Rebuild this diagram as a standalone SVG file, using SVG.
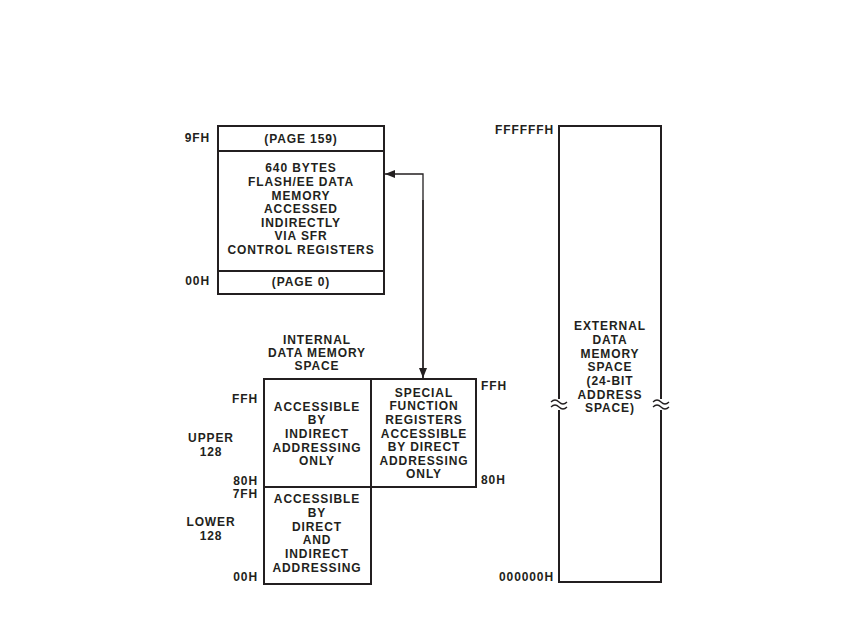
<svg xmlns="http://www.w3.org/2000/svg" width="850" height="638" viewBox="0 0 850 638">
<style>
text{font-family:"Liberation Sans",Arial,sans-serif;font-weight:bold;font-size:12px;letter-spacing:0.9px;fill:#231f20}
.c{text-anchor:middle}
.r{text-anchor:end}
.box{fill:none;stroke:#231f20;stroke-width:2}
.ln{fill:none;stroke:#231f20;stroke-width:1.3}
</style>
<defs>
<marker id="ah" viewBox="0 0 10 8" refX="10" refY="4" markerWidth="10" markerHeight="8" markerUnits="userSpaceOnUse" orient="auto">
<path d="M0,0 L10,4 L0,8 Z" fill="#231f20"/>
</marker>
</defs>
<rect width="850" height="638" fill="#fff"/>
<g id="flash">
<rect class="box" x="218" y="126" width="166" height="168"/>
<line class="box" x1="218" y1="151" x2="384" y2="151"/>
<line class="box" x1="218" y1="271" x2="384" y2="271"/>
<text class="c" x="301" y="143">(PAGE 159)</text>
<text class="c" x="301" y="172">640 BYTES</text>
<text class="c" x="301" y="186">FLASH/EE DATA</text>
<text class="c" x="301" y="200">MEMORY</text>
<text class="c" x="301" y="213">ACCESSED</text>
<text class="c" x="301" y="227">INDIRECTLY</text>
<text class="c" x="301" y="240">VIA SFR</text>
<text class="c" x="301" y="254">CONTROL REGISTERS</text>
<text class="c" x="301" y="286">(PAGE 0)</text>
<text class="r" x="210" y="142">9FH</text>
<text class="r" x="210" y="285">00H</text>
</g>
<g id="internal">
<text class="c" x="317" y="344">INTERNAL</text>
<text class="c" x="317" y="357">DATA MEMORY</text>
<text class="c" x="317" y="370">SPACE</text>
<rect class="box" x="264" y="379" width="107" height="205"/>
<line class="box" x1="264" y1="487" x2="371" y2="487"/>
<text class="c" x="317" y="411">ACCESSIBLE</text>
<text class="c" x="317" y="424">BY</text>
<text class="c" x="317" y="438">INDIRECT</text>
<text class="c" x="317" y="452">ADDRESSING</text>
<text class="c" x="317" y="465">ONLY</text>
<text class="c" x="317" y="503">ACCESSIBLE</text>
<text class="c" x="317" y="517">BY</text>
<text class="c" x="317" y="531">DIRECT</text>
<text class="c" x="317" y="544">AND</text>
<text class="c" x="317" y="558">INDIRECT</text>
<text class="c" x="317" y="572">ADDRESSING</text>
<text class="r" x="258" y="403">FFH</text>
<text class="c" x="211" y="442">UPPER</text>
<text class="c" x="211" y="456">128</text>
<text class="r" x="258" y="485">80H</text>
<text class="r" x="258" y="498">7FH</text>
<text class="c" x="211" y="526">LOWER</text>
<text class="c" x="211" y="540">128</text>
<text class="r" x="258" y="581">00H</text>
</g>
<g id="sfr">
<rect class="box" x="371" y="379" width="105" height="108"/>
<text class="c" x="424" y="397">SPECIAL</text>
<text class="c" x="424" y="410">FUNCTION</text>
<text class="c" x="424" y="424">REGISTERS</text>
<text class="c" x="424" y="438">ACCESSIBLE</text>
<text class="c" x="424" y="451">BY DIRECT</text>
<text class="c" x="424" y="465">ADDRESSING</text>
<text class="c" x="424" y="478">ONLY</text>
<text x="481" y="390">FFH</text>
<text x="481" y="484">80H</text>
</g>
<g id="external">
<rect class="box" x="559" y="126" width="102" height="456"/>
<rect x="552" y="399" width="14" height="11" fill="#fff"/>
<rect x="654" y="399" width="14" height="11" fill="#fff"/>
<path class="ln" d="M551,402 q4,-4 8,0 t8,0 M551,407 q4,-4 8,0 t8,0"/>
<path class="ln" d="M653,402 q4,-4 8,0 t8,0 M653,407 q4,-4 8,0 t8,0"/>
<text class="c" x="610" y="330">EXTERNAL</text>
<text class="c" x="610" y="344">DATA</text>
<text class="c" x="610" y="358">MEMORY</text>
<text class="c" x="610" y="371">SPACE</text>
<text class="c" x="610" y="385">(24-BIT</text>
<text class="c" x="610" y="399">ADDRESS</text>
<text class="c" x="610" y="412">SPACE)</text>
<text class="r" x="554" y="134">FFFFFFH</text>
<text class="r" x="554" y="581">000000H</text>
</g>
<g id="connectors">
<path class="ln" d="M423,378 L423,174 L385,174" marker-end="url(#ah)"/>
<path class="ln" d="M423,200 L423,378" marker-end="url(#ah)"/>
</g>
</svg>
